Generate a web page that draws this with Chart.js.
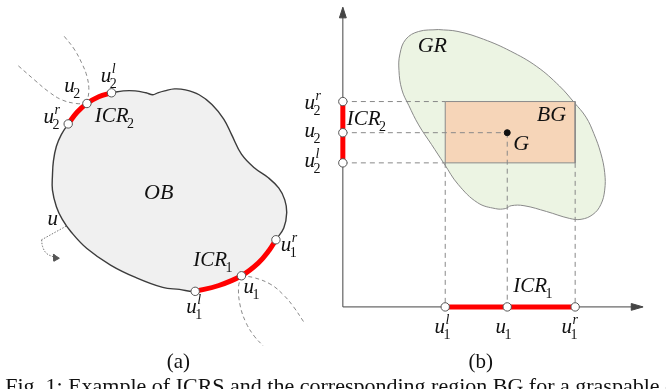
<!DOCTYPE html>
<html><head><meta charset="utf-8">
<script src="https://cdn.jsdelivr.net/npm/chart.js@4/dist/chart.umd.min.js"></script>
<style>html,body{margin:0;padding:0;background:#fff;overflow:hidden}#wrap{width:666px;height:389px}</style>
</head><body><div id="wrap"><canvas id="c" width="666" height="389"></canvas></div>
<script>
// ---------- panel (a): object OB and its contact regions ----------
const obUpper = [[108,90],[120,88],[132,88],[143,90],[150,92],[155,90],[162,88],[172,86],[183,87],[197,92],[210,102],[222,117],[230,133],[240,153],[253,167],[267,177],[278,188],[284,200],[286,213],[283,229],[275,241]];
const icr1Arc = [[275,241],[268,252],[257,265],[240,278],[217,288],[193,294]];
const obLower = [[193,294],[177,292],[160,290],[133,280],[107,267],[83,250],[67,233],[58,220],[52,207],[48,190],[48,175],[49,160],[52,145],[57,133],[64,122]];
const icr2Arc = [[64,122],[73,110],[83,101],[95,94],[108,90]];
const contactsA = [[108,90],[83,101],[64,122],[275,241],[240,278],[193,294]];
const coneCurves = [
  [[83,101],[85,87],[83,73],[78,60],[70,45],[60,32]],
  [[83,101],[72,101],[57,97],[43,88],[30,77],[13,62]],
  [[240,278],[253,280],[270,287],[283,298],[293,310],[303,325]],
  [[240,278],[237,290],[239,310],[245,327],[253,340],[262,350]]
];
const paramLine = [[62,227],[37,241]];
const paramCurve = [[37,241],[38,248],[42,255],[50,259]];
const paramHead = [[55,260],[49,256],[49.5,263],[55,260]];

// ---------- panel (b): grasp space ----------
const yAxisLine = [[343,310],[343,12]];
const xAxisLine = [[343,310],[637,310]];
const yHead = [[339.5,13],[343,2],[346.5,13],[339.5,13]];
const xHead = [[636,306.5],[648,310],[636,313.5],[636,306.5]];
const grOutline = [[440,25],[460,27],[486,35],[513,47],[540,63],[563,83],[578,100],[590,115],[598,132],[605,152],[609,172],[609,190],[605,205],[597,215],[585,220],[573,219],[550,212],[527,206],[514,206],[508,209],[498,209],[480,203],[460,184],[446,163],[433,143],[420,123],[410,103],[403,87],[400,67],[401,50],[407,35],[420,27],[440,25]];
const u1Values = [447,510,579];   // u1^l, u1, u1^r on the horizontal axis
const u2Values = [99,131,162];    // u2^r, u2, u2^l on the vertical axis
const xOrigin = 343, yOrigin = 310;

// ---------- text ----------
const mathLabels = [
  {b:'u', sub:'2', sup:'l', x:97, y:79},
  {b:'u', sub:'2', x:60, y:89},
  {b:'u', sub:'2', sup:'r', x:39, y:121},
  {b:'ICR', sub:'2', x:91, y:120},
  {b:'OB', x:141, y:199, big:true},
  {b:'u', x:43, y:226},
  {b:'ICR', sub:'1', x:191, y:268},
  {b:'u', sub:'1', sup:'r', x:280, y:253},
  {b:'u', sub:'1', x:242, y:296},
  {b:'u', sub:'1', sup:'l', x:184, y:316},
  {b:'GR', x:419, y:48, big:true},
  {b:'BG', x:540, y:119, big:true},
  {b:'G', x:516, y:149, big:true},
  {b:'u', sub:'2', sup:'r', x:304, y:107},
  {b:'u', sub:'2', x:304, y:135},
  {b:'u', sub:'2', sup:'l', x:304, y:166},
  {b:'ICR', sub:'2', x:347, y:123},
  {b:'ICR', sub:'1', x:516, y:295},
  {b:'u', sub:'1', sup:'l', x:436, y:337},
  {b:'u', sub:'1', x:498, y:337},
  {b:'u', sub:'1', sup:'r', x:565, y:337}
];
const panelCaptions = [{t:'(a)', x:176, y:373}, {t:'(b)', x:483, y:373}];
const figCaption = {t:'Fig. 1: Example of ICRS and the corresponding region BG for a graspable object', x:0, y:398};

// ---------- build ----------
const P = a => a.map(([x,y]) => ({x, y}));
const joinSegs = segs => segs.flatMap((s,i) => (i ? [{x: s[0][0], y: null}] : []).concat(P(s)));
const line = (data, o) => Object.assign({data, pointRadius:0, pointHoverRadius:0, fill:false, tension:0, borderWidth:1, borderColor:'#444'}, o);

const bgRect = [[u1Values[0],u2Values[0]],[u1Values[2],u2Values[0]],[u1Values[2],u2Values[2]],[u1Values[0],u2Values[2]],[u1Values[0],u2Values[0]]];
const guideSegs = [
  [[xOrigin,u2Values[0]],[u1Values[0],u2Values[0]]],
  [[xOrigin,u2Values[1]],[u1Values[1],u2Values[1]]],
  [[xOrigin,u2Values[2]],[u1Values[0],u2Values[2]]],
  [[u1Values[0],u2Values[2]],[u1Values[0],yOrigin]],
  [[u1Values[1],u2Values[1]],[u1Values[1],yOrigin]],
  [[u1Values[2],u2Values[2]],[u1Values[2],yOrigin]]
];
const obShape = obUpper.concat(icr1Arc.slice(1), obLower.slice(1), icr2Arc.slice(1));
const contactsB = u2Values.map(v => [xOrigin, v]).concat(u1Values.map(v => [v, yOrigin]));

const datasets = [
  line(P(grOutline), {fill:'shape', backgroundColor:'#ecf4e3', borderColor:'#8a8a8a', tension:0.4, order:20}),
  line(P(bgRect), {fill:'shape', backgroundColor:'#f6d5b8', borderColor:'#8a8a8a', order:19}),
  line(P(obShape), {fill:'shape', backgroundColor:'#f0f0f0', borderColor:'#3c3c3c', borderWidth:1.4, tension:0.4, order:18}),
  line(joinSegs(guideSegs), {borderColor:'#888', borderDash:[5,4], order:15}),
  line(joinSegs(coneCurves), {borderColor:'#8a8a8a', borderDash:[4,3], tension:0.4, order:15}),
  line(P(paramLine), {borderColor:'#777', borderDash:[1.5,1.5], order:15}),
  line(P(paramCurve), {borderColor:'#777', borderDash:[1.5,1.5], tension:0.4, order:15}),
  line(P(paramHead), {fill:'shape', backgroundColor:'#555', borderColor:'#555', order:14}),
  line(P(yAxisLine), {borderColor:'#444', order:14}),
  line(P(xAxisLine), {borderColor:'#444', order:14}),
  line(P(yHead), {fill:'shape', backgroundColor:'#444', borderColor:'#444', order:13}),
  line(P(xHead), {fill:'shape', backgroundColor:'#444', borderColor:'#444', order:13}),
  line(P(icr1Arc), {borderColor:'#ff0000', borderWidth:5, tension:0.4, borderCapStyle:'butt', order:10}),
  line(P(icr2Arc), {borderColor:'#ff0000', borderWidth:5, tension:0.4, borderCapStyle:'butt', order:10}),
  line(P([[xOrigin,u2Values[0]],[xOrigin,u2Values[2]]]), {borderColor:'#ff0000', borderWidth:5, order:10}),
  line(P([[u1Values[0],yOrigin],[u1Values[2],yOrigin]]), {borderColor:'#ff0000', borderWidth:5, order:10}),
  {data:P(contactsA.concat(contactsB)), showLine:false, pointRadius:4.2, pointHoverRadius:4.2, pointBackgroundColor:'#fff', pointBorderColor:'#555', pointBorderWidth:1, order:2},
  {data:P([[u1Values[1],u2Values[1]]]), showLine:false, pointRadius:3, pointBackgroundColor:'#111', pointBorderColor:'#111', order:1}
];

const SERIF = '"Liberation Serif","Times New Roman",serif';
const textPlugin = {
  id:'texts',
  beforeDraw(chart){ const c = chart.ctx; c.save(); c.fillStyle='#fff'; c.fillRect(0,0,chart.width,chart.height); c.restore(); },
  afterDatasetsDraw(chart){
    const c = chart.ctx, sx = chart.scales.x, sy = chart.scales.y;
    c.save(); c.fillStyle = '#111'; c.textBaseline = 'alphabetic'; c.textAlign = 'left';
    mathLabels.forEach(l => {
      const px = sx.getPixelForValue(l.x), py = sy.getPixelForValue(l.y);
      c.font = 'italic ' + (l.big ? 22 : 21) + 'px ' + SERIF;
      c.fillText(l.b, px, py);
      const w = c.measureText(l.b).width;
      if (l.sup) { c.font = 'italic 14px ' + SERIF; c.fillText(l.sup, px + w + 0.5, py - 9); }
      if (l.sub) { c.font = '14px ' + SERIF; c.fillText(l.sub, px + w - 1.5, py + 6); }
    });
    c.textAlign = 'center'; c.font = '21px ' + SERIF;
    panelCaptions.forEach(p => c.fillText(p.t, sx.getPixelForValue(p.x), sy.getPixelForValue(p.y)));
    c.textAlign = 'left'; c.font = '22px ' + SERIF;
    c.fillText(figCaption.t, sx.getPixelForValue(figCaption.x), sy.getPixelForValue(figCaption.y));
    c.restore();
  }
};

new Chart(document.getElementById('c'), {
  type:'line',
  data:{datasets},
  options:{
    responsive:false, animation:false, devicePixelRatio:1,
    layout:{padding:0},
    plugins:{legend:{display:false}, tooltip:{enabled:false}},
    events:[],
    scales:{
      x:{type:'linear', min:0, max:666, display:false},
      y:{type:'linear', min:0, max:389, reverse:true, display:false}
    },
    clip:false
  },
  plugins:[textPlugin]
});
</script></body></html>
